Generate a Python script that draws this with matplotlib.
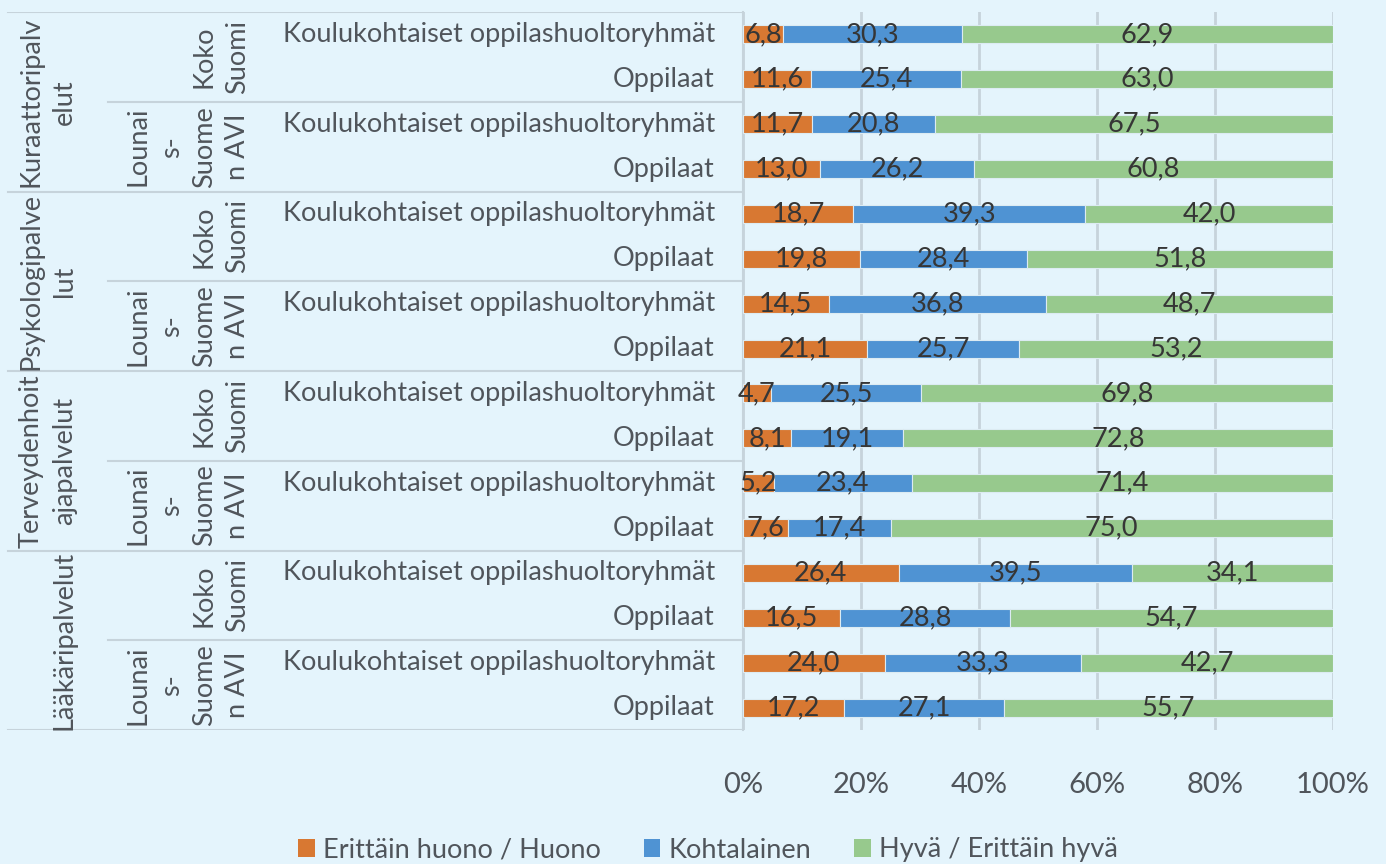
import matplotlib.pyplot as plt
from matplotlib.patches import Patch
import numpy as np

plt.rcParams['font.family'] = ['Lato', 'DejaVu Sans']

# data
services = ['Kuraattoripalv\nelut', 'Psykologipalve\nlut', 'Terveydenhoit\najapalvelut', 'Lääkäripalvelut']
regions = ['Koko\nSuomi', 'Lounai\ns-\nSuome\nn AVI']
respondents = ['Koulukohtaiset oppilashuoltoryhmät', 'Oppilaat']
series_names = ['Erittäin huono / Huono', 'Kohtalainen', 'Hyvä / Erittäin hyvä']

huono = [6.8, 11.6, 11.7, 13.0, 18.7, 19.8, 14.5, 21.1,
         4.7, 8.1, 5.2, 7.6, 26.4, 16.5, 24.0, 17.2]
kohtalainen = [30.3, 25.4, 20.8, 26.2, 39.3, 28.4, 36.8, 25.7,
               25.5, 19.1, 23.4, 17.4, 39.5, 28.8, 33.3, 27.1]
hyva = [62.9, 63.0, 67.5, 60.8, 42.0, 51.8, 48.7, 53.2,
        69.8, 72.8, 71.4, 75.0, 34.1, 54.7, 42.7, 55.7]

colors = ['#D87832', '#4F93D3', '#97C98D']
bg = '#E4F4FC'
txt = '#50555B'
line_c = '#C6D3DB'
fs = 19.5

W, H = 1386, 864
fig = plt.figure(figsize=(W / 100, H / 100), dpi=100, facecolor=bg)

top, bot = 12, 730
ax = fig.add_axes([743 / W, 1 - bot / H, (1333 - 743) / W, (bot - top) / H])
ax.set_facecolor(bg)

n = len(huono)
y = np.arange(n)
left = np.zeros(n)
for vals, c in zip([huono, kohtalainen, hyva], colors):
    vals = np.array(vals)
    bars = ax.barh(y, vals, left=left, height=0.4, color=c,
                   edgecolor='#DCEBF2', linewidth=0.8, zorder=3)
    ax.bar_label(bars, labels=[f'{v:.1f}'.replace('.', ',') for v in vals],
                 label_type='center', fontsize=19.5, color='#363636', zorder=4)
    left += vals

ax.set_xlim(0, 100)
ax.set_ylim(n - 0.5, -0.5)
ax.set_xticks(np.arange(0, 101, 20))
ax.set_xticklabels([f'{t}%' for t in range(0, 101, 20)])
ax.tick_params(axis='x', length=0, pad=30, labelsize=21, labelcolor=txt)
ax.tick_params(axis='y', left=False, labelleft=False)
ax.grid(axis='x', color=line_c, linewidth=2, zorder=0)
for s in ['top', 'right', 'bottom']:
    ax.spines[s].set_visible(False)
ax.spines['left'].set_color(line_c)
ax.spines['left'].set_linewidth(1.5)

# hierarchical category labels on the left
lab = fig.add_axes([0, 1 - bot / H, 743 / W, (bot - top) / H])
lab.set_xlim(0, 743)
lab.set_ylim(n - 0.5, -0.5)
lab.axis('off')

for g in range(len(services) + 1):
    lab.plot([8, 743], [g * 4 - 0.5] * 2, color=line_c, lw=1.5)
for g in range(len(services)):
    lab.plot([108, 743], [g * 4 + 1.5] * 2, color=line_c, lw=1.5)
    lab.text(77, g * 4 + 1.5, services[g], rotation=90, ha='right', va='center',
             multialignment='center', fontsize=fs, color=txt, linespacing=1.4)
    for r in range(len(regions)):
        yc = g * 4 + r * 2 + 0.5
        lab.text(250, yc, regions[r], rotation=90, ha='right', va='center',
                 multialignment='center', fontsize=fs, color=txt, linespacing=1.4)
        for k in range(len(respondents)):
            lab.text(715, g * 4 + r * 2 + k, respondents[k], ha='right', va='center',
                     fontsize=fs, color=txt)

handles = [Patch(facecolor=c, edgecolor='none') for c in colors]
fig.legend(handles, series_names, loc='center', bbox_to_anchor=(708 / W, 1 - 850 / H),
           ncol=3, frameon=False, fontsize=fs, labelcolor=txt,
           handlelength=0.6, handleheight=0.6, handletextpad=0.3, columnspacing=1.6)

fig.savefig('out.png', dpi=100, facecolor=bg)
